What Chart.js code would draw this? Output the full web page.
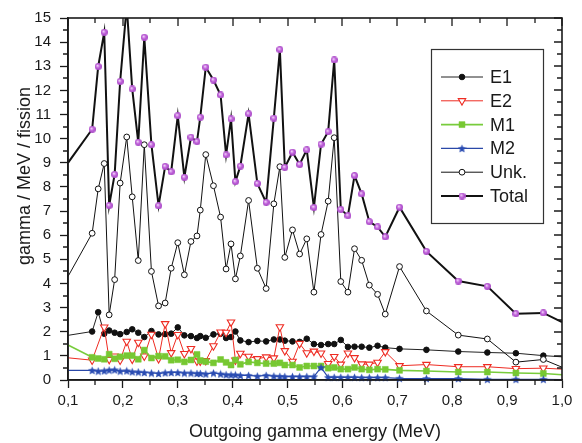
<!DOCTYPE html>
<html>
<head>
<meta charset="utf-8">
<script src="https://cdn.jsdelivr.net/npm/chart.js@4.4.1/dist/chart.umd.min.js"></script>
<style>
    html, body { margin: 0; padding: 0; background: #fff; }
</style>
</head>
<body>
<canvas id="gammaChart" width="582" height="443"></canvas>
<script>
// outgoing gamma energy (MeV), first and last entries sit on the axis edges
var energy = [0.1,
    0.144, 0.155, 0.166, 0.175, 0.185, 0.195, 0.207, 0.217, 0.228, 0.239,
    0.252, 0.265, 0.277, 0.288, 0.300, 0.312, 0.324, 0.335, 0.341, 0.351,
    0.365, 0.378, 0.388, 0.397, 0.405, 0.414, 0.429, 0.445, 0.461, 0.475,
    0.486, 0.495, 0.509, 0.522, 0.535, 0.548, 0.561, 0.574, 0.585, 0.597,
    0.610, 0.622, 0.635, 0.649, 0.664, 0.678, 0.704, 0.753, 0.811, 0.864,
    0.916, 0.966,
    1.0];

var e1 = [1.85,
    2.01, 2.81, 1.92, 2.05, 1.96, 1.90, 1.99, 2.10, 1.96, 1.78,
    2.03, 1.89, 1.90, 1.92, 2.18, 1.85, 1.82, 1.74, 1.82, 1.75,
    1.89, 1.92, 1.74, 1.78, 2.01, 1.64, 1.57, 1.62, 1.60, 1.68,
    1.68, 1.63, 1.60, 1.58, 1.71, 1.49, 1.45, 1.49, 1.49, 1.66,
    1.37, 1.38, 1.38, 1.34, 1.42, 1.34, 1.29, 1.25, 1.18, 1.14,
    1.11, 1.01,
    0.96];

var e2 = [0.92,
    0.82, null, 2.19, 0.85, 0.99, 0.82, 1.60, 0.86, 1.56, 0.99,
    1.89, 0.88, 2.33, 1.13, 1.88, 1.09, 1.30, 0.78, 0.78, 0.80,
    1.41, 1.98, 1.97, 2.40, 0.82, 1.10, 0.98, 0.88, 0.95, 0.91,
    2.20, 1.21, 0.77, 1.51, 1.12, 1.19, 1.11, 0.68, 0.97, 0.65,
    1.11, 0.92, 0.66, 0.65, 0.73, 1.17, 0.59, 0.64, 0.55, 0.55,
    0.47, 0.49,
    0.45];

var m1 = [1.45,
    0.94, 0.89, 0.86, 1.07, 0.88, 0.96, 1.01, 1.01, 0.86, 1.24,
    0.91, 0.99, 0.98, 0.82, 0.84, 0.75, 0.83, 1.06, 0.81, 0.76,
    0.71, 0.85, 0.73, 0.62, 0.83, 0.65, 0.75, 0.71, 0.68, 0.68,
    0.71, 0.62, 0.62, 0.52, 0.58, 0.58, 0.58, 0.49, 0.52, 0.45,
    0.45, 0.52, 0.45, 0.42, 0.45, 0.44, 0.40, 0.37, 0.33, 0.33,
    0.29, 0.27,
    0.22];

var m2 = [0.40,
    0.40, 0.37, 0.38, 0.41, 0.42, 0.37, 0.38, 0.34, 0.33, 0.31,
    0.29, 0.27, 0.30, 0.31, 0.31, 0.29, 0.29, 0.27, 0.27, 0.25,
    0.29, 0.25, 0.22, 0.21, 0.21, 0.19, 0.19, 0.16, 0.19, 0.16,
    0.15, 0.14, 0.14, 0.14, 0.14, 0.14, 0.52, 0.11, 0.11, 0.11,
    0.11, 0.11, 0.10, 0.10, 0.10, 0.10, 0.07, 0.06, 0.06, 0.03,
    0.03, 0.03,
    0.02];

var unk = [4.29,
    6.08, 7.92, 8.97, 2.70, 4.16, 8.16, 10.07, 7.59, 4.95, 9.75,
    4.50, 3.07, 3.19, 4.63, 5.69, 4.36, 5.74, 5.97, 7.04, 9.34,
    8.05, 6.75, 4.60, 5.64, 4.19, 5.14, 7.44, 4.63, 3.79, 7.30,
    8.84, 5.08, 6.22, 5.22, 5.85, 3.64, 6.03, 7.41, 10.04, 4.08,
    3.64, 5.44, 4.96, 3.93, 3.55, 2.73, 4.70, 2.86, 1.86, 1.70,
    0.74, 0.85,
    0.53];

var total = [9.00,
    10.39, 12.99, 14.41, 7.23, 8.52, 12.37, 15.50, 12.06, 9.85, 14.20,
    9.75, 7.22, 8.85, 8.63, 10.95, 8.40, 10.06, 9.88, 10.89, 12.96,
    12.43, 11.81, 9.33, 10.82, 8.22, 8.86, 11.03, 8.14, 7.36, 10.85,
    13.69, 8.81, 9.44, 8.93, 9.54, 7.15, 9.77, 10.29, 13.26, 7.07,
    6.81, 8.47, 7.71, 6.56, 6.34, 5.93, 7.16, 5.33, 4.10, 3.88,
    2.75, 2.78,
    2.40];

var xTitle = 'Outgoing gamma energy (MeV)';
var yTitle = 'gamma / MeV / fission';

Chart.defaults.font.family = "'Liberation Sans', Arial, sans-serif";
Chart.defaults.color = '#1a1a1a';

function starImage(size, color) {
    var c = document.createElement('canvas');
    c.width = c.height = size;
    var g = c.getContext('2d');
    var ro = size / 2, ri = ro * 0.45;
    g.beginPath();
    for (var i = 0; i < 10; i++) {
        var r = i % 2 ? ri : ro;
        var a = -Math.PI / 2 + i * Math.PI / 5;
        g.lineTo(ro + r * Math.cos(a), ro + 0.4 + r * Math.sin(a));
    }
    g.closePath();
    g.fillStyle = color;
    g.fill();
    return c;
}

function ballImage(size, color) {
    var c = document.createElement('canvas');
    c.width = c.height = size;
    var g = c.getContext('2d');
    var grad = g.createRadialGradient(size * 0.38, size * 0.36, 0.3, size / 2, size / 2, size / 2);
    grad.addColorStop(0, '#f3d6fa');
    grad.addColorStop(0.5, color);
    grad.addColorStop(1, '#a646c4');
    g.beginPath();
    g.arc(size / 2, size / 2, size / 2, 0, Math.PI * 2);
    g.fillStyle = grad;
    g.fill();
    return c;
}

function series(label, values, look) {
    var last = energy.length - 1;
    return {
        label: label,
        data: energy.map(function (e, i) { return { x: e, y: values[i] }; }),
        borderColor: look.line,
        borderWidth: look.width,
        pointStyle: look.style,
        pointRotation: look.rotation || 0,
        pointBackgroundColor: look.fill,
        pointBorderColor: look.edge,
        pointBorderWidth: look.edgeWidth,
        pointRadius: function (c) {
            return c.dataIndex === 0 || c.dataIndex === last ? 0 : look.radius;
        },
        pointHoverRadius: 0,
        spanGaps: true,
        tension: 0,
        clip: look.clip,
        order: look.order,
        look: look
    };
}

// frame with mirrored ticks, minor ticks and the axis titles
var frameAndTitles = {
    id: 'frameAndTitles',
    afterDatasetsDraw: function (chart) {
        var ctx = chart.ctx, a = chart.chartArea;
        var x = chart.scales.x, y = chart.scales.y;
        var i, p, len;
        ctx.save();
        ctx.strokeStyle = '#1a1a1a';
        ctx.lineWidth = 1.6;
        ctx.strokeRect(a.left, a.top, a.right - a.left, a.bottom - a.top);
        ctx.lineWidth = 1.3;
        ctx.beginPath();
        for (i = 0; i <= 18; i++) {
            p = Math.round(x.getPixelForValue(0.1 + i * 0.05));
            len = i % 2 ? 5 : 8;
            if (i % 2) {
                ctx.moveTo(p, a.bottom);
                ctx.lineTo(p, a.bottom + len);
            }
            ctx.moveTo(p, a.top);
            ctx.lineTo(p, a.top + len);
        }
        for (i = 0; i <= 30; i++) {
            p = Math.round(y.getPixelForValue(i * 0.5));
            len = i % 2 ? 5 : 8;
            if (i % 2) {
                ctx.moveTo(a.left, p);
                ctx.lineTo(a.left - len, p);
            }
            ctx.moveTo(a.right, p);
            ctx.lineTo(a.right - len, p);
        }
        ctx.stroke();
        ctx.restore();
    },
    afterDraw: function (chart) {
        var ctx = chart.ctx, a = chart.chartArea;
        ctx.save();
        ctx.fillStyle = '#1a1a1a';
        ctx.font = "18px 'Liberation Sans', Arial, sans-serif";
        ctx.textAlign = 'center';
        ctx.textBaseline = 'middle';
        ctx.fillText(xTitle, (a.left + a.right) / 2, 432);
        ctx.translate(25, 176);
        ctx.rotate(-Math.PI / 2);
        ctx.fillText(yTitle, 0, 0);
        ctx.restore();
    }
};

// boxed legend with a line sample and marker for each series
var boxedLegend = {
    id: 'boxedLegend',
    afterDraw: function (chart) {
        var ctx = chart.ctx;
        var left = 431, top = 49, width = 112, height = 174;
        ctx.save();
        ctx.strokeStyle = '#333';
        ctx.lineWidth = 1.2;
        ctx.strokeRect(left + 0.5, top + 0.5, width, height);
        ctx.font = "18px 'Liberation Sans', Arial, sans-serif";
        ctx.textBaseline = 'middle';
        chart.data.datasets.forEach(function (ds, i) {
            var look = ds.look;
            var yy = top + 28 + i * 23.8;
            ctx.strokeStyle = look.line;
            ctx.lineWidth = look.width;
            ctx.beginPath();
            ctx.moveTo(left + 10, yy);
            ctx.lineTo(left + 52, yy);
            ctx.stroke();
            ctx.fillStyle = look.fill;
            ctx.strokeStyle = look.edge;
            ctx.lineWidth = look.edgeWidth;
            Chart.helpers.drawPoint(ctx, {
                pointStyle: look.style,
                radius: look.radius,
                rotation: look.rotation || 0,
                borderWidth: look.edgeWidth
            }, left + 31, yy);
            ctx.fillStyle = '#1a1a1a';
            ctx.fillText(ds.label, left + 59, yy + 1);
        });
        ctx.restore();
    }
};

var ctx = document.getElementById('gammaChart').getContext('2d');

new Chart(ctx, {
    type: 'line',
    data: {
        datasets: [
            series('E1', e1, { line: '#222', width: 1, style: 'circle', fill: '#111', edge: '#111', edgeWidth: 1, radius: 2.8, order: 5, clip: 6 }),
            series('E2', e2, { line: '#ee2b22', width: 1, style: 'triangle', rotation: 180, fill: '#fff', edge: '#ee2b22', edgeWidth: 1.1, radius: 4.3, order: 4, clip: 6 }),
            series('M1', m1, { line: '#78cc3c', width: 1.6, style: 'rect', fill: '#77c832', edge: '#77c832', edgeWidth: 0.5, radius: 4.2, order: 3, clip: 6 }),
            series('M2', m2, { line: '#2a48a8', width: 1.2, style: starImage(9, '#2a4cb2'), fill: '#2a4cb2', edge: '#2a4cb2', edgeWidth: 0, radius: 4, order: 2, clip: 6 }),
            series('Unk.', unk, { line: '#111', width: 1, style: 'circle', fill: '#fff', edge: '#111', edgeWidth: 1, radius: 2.9, order: 1, clip: 6 }),
            series('Total', total, { line: '#111', width: 2, style: ballImage(7, '#c062da'), fill: '#c062da', edge: '#c062da', edgeWidth: 0, radius: 3.5, order: 0, clip: 0 })
        ]
    },
    options: {
        responsive: false,
        animation: false,
        events: [],
        layout: {
            padding: { top: 15, right: 20, left: 0, bottom: 0 }
        },
        plugins: {
            legend: { display: false },
            tooltip: { enabled: false }
        },
        scales: {
            x: {
                type: 'linear',
                min: 0.1,
                max: 1.0,
                afterFit: function (scale) { scale.height = 63; },
                ticks: {
                    stepSize: 0.1,
                    padding: 4,
                    font: { size: 15 },
                    color: '#1a1a1a',
                    maxRotation: 0,
                    callback: function (v) { return v.toFixed(1).replace('.', ','); }
                },
                grid: { drawOnChartArea: false, tickLength: 8, tickColor: '#1a1a1a', tickWidth: 1.3 },
                border: { display: true, color: '#1a1a1a', width: 1.6 }
            },
            y: {
                min: 0,
                max: 15,
                afterFit: function (scale) { scale.width = 68; },
                ticks: {
                    stepSize: 1,
                    padding: 9,
                    font: { size: 15 },
                    color: '#1a1a1a'
                },
                grid: { drawOnChartArea: false, tickLength: 8, tickColor: '#1a1a1a', tickWidth: 1.3 },
                border: { display: true, color: '#1a1a1a', width: 1.6 }
            }
        }
    },
    plugins: [frameAndTitles, boxedLegend]
});
</script>
</body>
</html>
